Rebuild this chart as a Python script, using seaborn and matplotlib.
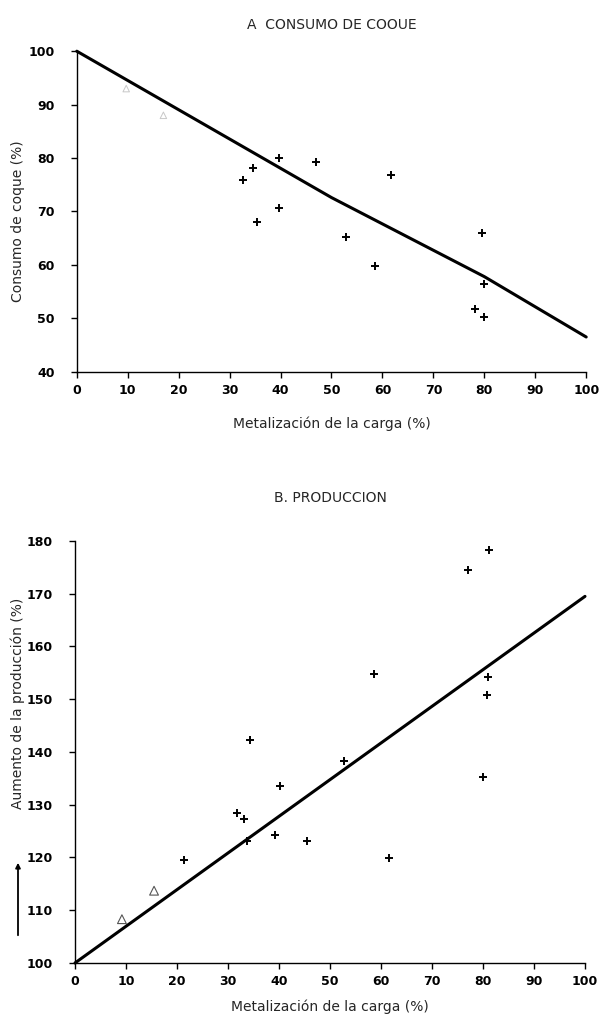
import matplotlib
matplotlib.use("Agg")
import matplotlib.pyplot as plt
import seaborn as sns
import pandas as pd

# ---- Data: chart A (coke consumption) ----
a_plus_x = [32.7, 34.5, 35.3, 39.6, 39.6, 46.9, 52.8, 58.5, 61.7, 79.6, 80.0, 78.1, 80.0]
a_plus_y = [75.9, 78.1, 68.1, 80.0, 70.6, 79.3, 65.3, 59.8, 76.8, 65.9, 56.5, 51.8, 50.3]
a_tri_x = [9.7, 17.0]
a_tri_y = [93.0, 88.0]
a_line_x = [0, 50, 80, 100]
a_line_y = [100, 72.6, 57.8, 46.5]

# ---- Data: chart B (production) ----
b_plus_x = [81.1, 77.0, 58.6, 81.0, 80.8, 34.3, 52.8, 40.2, 80.0, 31.7, 33.2, 33.7, 39.3, 45.4, 61.5, 21.3]
b_plus_y = [178.2, 174.5, 154.8, 154.3, 150.8, 142.3, 138.3, 133.6, 135.2, 128.5, 127.3, 123.2, 124.3, 123.1, 119.9, 119.5]
b_tri_x = [9.2, 15.5]
b_tri_y = [108.3, 113.7]
b_line_x = [0, 100]
b_line_y = [100, 169.5]

x_ticks = [0, 10, 20, 30, 40, 50, 60, 70, 80, 90, 100]
a_y_ticks = [40, 50, 60, 70, 80, 90, 100]
b_y_ticks = [100, 110, 120, 130, 140, 150, 160, 170, 180]

sns.set_theme(style="ticks")
plt.rcParams['font.family'] = ['DejaVu Sans']

fig = plt.figure(figsize=(6, 10.24), dpi=100)
axA = fig.add_axes([0.128, 0.637, 0.849, 0.313])
axB = fig.add_axes([0.125, 0.0596, 0.850, 0.4121])

def style(ax, yticks, ylim):
    ax.set_xlim(0, 100)
    ax.set_ylim(*ylim)
    ax.set_xticks(x_ticks)
    ax.set_yticks(yticks)
    for s in ("top", "right"):
        ax.spines[s].set_visible(False)
    for s in ("left", "bottom"):
        ax.spines[s].set_linewidth(1.0)
        ax.spines[s].set_color("black")
    ax.tick_params(axis="both", direction="out", length=4, width=1, colors="black",
                   labelsize=9)
    ax.tick_params(axis="y", pad=12)
    ax.tick_params(axis="x", pad=5)
    for lab in ax.get_xticklabels() + ax.get_yticklabels():
        lab.set_fontweight("bold")

# Chart A
dfA_line = pd.DataFrame({"x": a_line_x, "y": a_line_y})
sns.lineplot(data=dfA_line, x="x", y="y", ax=axA, color="black", linewidth=2.2, clip_on=False)
dfA = pd.DataFrame({"x": a_plus_x, "y": a_plus_y})
sns.scatterplot(data=dfA, x="x", y="y", ax=axA, marker="+", color="black", s=26, linewidth=1.4)
dfAt = pd.DataFrame({"x": a_tri_x, "y": a_tri_y})
sns.scatterplot(data=dfAt, x="x", y="y", ax=axA, marker="^", facecolor="none",
                edgecolor="#c8c8c8", s=22, linewidth=0.7)
style(axA, a_y_ticks, (40, 100))
axA.set_xlabel("Metalización de la carga (%)", fontsize=10, labelpad=14)
axA.set_ylabel("Consumo de coque (%)", fontsize=10)
axA.yaxis.set_label_coords(-0.101, 0.47)
axA.set_title("A  CONSUMO DE COOUE", fontsize=10, pad=16)

# Chart B
dfB_line = pd.DataFrame({"x": b_line_x, "y": b_line_y})
sns.lineplot(data=dfB_line, x="x", y="y", ax=axB, color="black", linewidth=2.2, clip_on=False)
dfB = pd.DataFrame({"x": b_plus_x, "y": b_plus_y})
sns.scatterplot(data=dfB, x="x", y="y", ax=axB, marker="+", color="black", s=26, linewidth=1.4)
dfBt = pd.DataFrame({"x": b_tri_x, "y": b_tri_y})
sns.scatterplot(data=dfBt, x="x", y="y", ax=axB, marker="^", facecolor="none",
                edgecolor="#555555", s=40, linewidth=0.8)
style(axB, b_y_ticks, (100, 180))
axB.set_xlabel("Metalización de la carga (%)", fontsize=10, labelpad=8)
axB.set_ylabel("Aumento de la producción (%)", fontsize=10)
axB.yaxis.set_label_coords(-0.098, 0.614)
axB.set_title("B. PRODUCCION", fontsize=10, pad=28)

# arrow beside the bottom y-label
fig.add_artist(matplotlib.patches.FancyArrowPatch(
    (18 / 600, 1 - 938 / 1024), (18 / 600, 1 - 860 / 1024),
    transform=fig.transFigure, arrowstyle="-|>", mutation_scale=7,
    color="black", linewidth=1.3))

fig.savefig("out.png", dpi=100)
